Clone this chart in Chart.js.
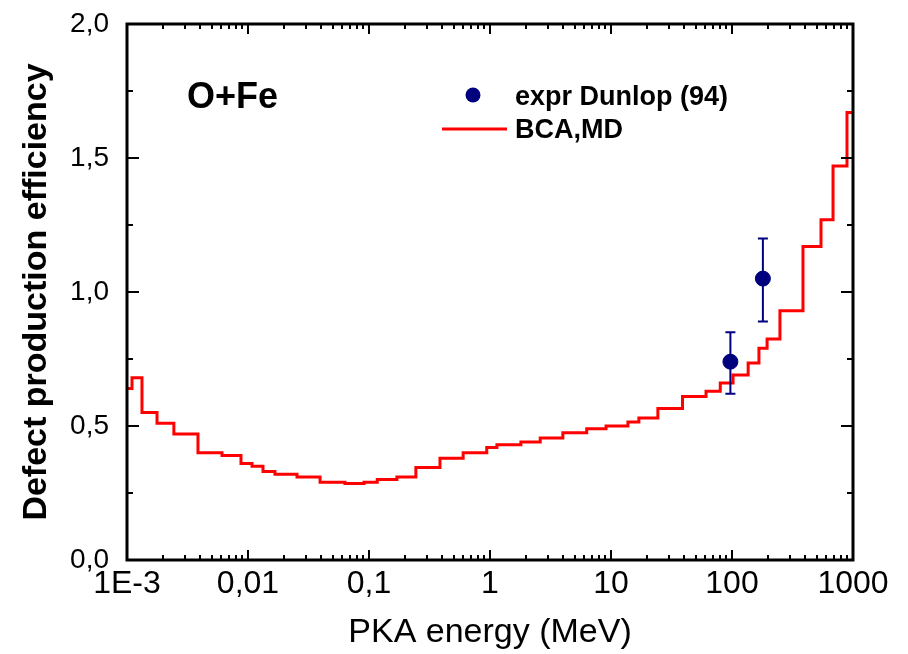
<!DOCTYPE html>
<html>
<head>
<meta charset="utf-8">
<script src="https://cdn.jsdelivr.net/npm/chart.js@4/dist/chart.umd.min.js"></script>
<style>
  body { margin: 0; background: #fff; }
  canvas { display: block; }
</style>
</head>
<body>
<canvas id="chart" width="908" height="654"></canvas>
<script>
// BCA,MD curve: energy where each step starts (MeV) and the level of that step
var stepEnergy = [0.001, 0.0011, 0.00133, 0.00177, 0.00244, 0.00386, 0.0061, 0.00875, 0.0108, 0.0133,
  0.0167, 0.0254, 0.0394, 0.0633, 0.091, 0.117, 0.17, 0.244, 0.386, 0.6,
  0.94, 1.14, 1.8, 2.6, 4.0, 6.3, 9.1, 13.8, 17, 24.4,
  39, 61, 80, 102, 136, 167, 195, 249, 386, 544,
  684, 892, 1000];
var stepEff = [0.64, 0.68, 0.55, 0.51, 0.47, 0.40, 0.39, 0.36, 0.35, 0.33,
  0.32, 0.31, 0.29, 0.285, 0.29, 0.30, 0.31, 0.345, 0.38, 0.40,
  0.42, 0.43, 0.44, 0.455, 0.475, 0.49, 0.50, 0.515, 0.53, 0.565,
  0.61, 0.63, 0.66, 0.69, 0.735, 0.79, 0.825, 0.93, 1.17, 1.27,
  1.47, 1.67, 1.67];

// expr Dunlop (94)
var exprEnergy = [97, 180];
var exprEff = [0.74, 1.05];
var exprLow = [0.62, 0.89];
var exprHigh = [0.85, 1.20];

var xTicks = [0.001, 0.01, 0.1, 1, 10, 100, 1000];
var xTickLabels = ['1E-3', '0,01', '0,1', '1', '10', '100', '1000'];
var yTicks = [0, 0.5, 1, 1.5, 2];
var yTickLabels = ['0,0', '0,5', '1,0', '1,5', '2,0'];

var NAVY = '#00007f';
var sans = '"Liberation Sans", Arial, sans-serif';

// frame with inward ticks, error bars, label and legend
var decor = {
  id: 'decor',
  afterDatasetsDraw: function(chart) {
    var ctx = chart.ctx, x = chart.scales.x, y = chart.scales.y;
    ctx.save();
    ctx.strokeStyle = NAVY;
    ctx.lineWidth = 2;
    for (var i = 0; i < exprEnergy.length; i++) {
      var px = x.getPixelForValue(exprEnergy[i]);
      var lo = y.getPixelForValue(exprLow[i]);
      var hi = y.getPixelForValue(exprHigh[i]);
      ctx.beginPath();
      ctx.moveTo(px, lo); ctx.lineTo(px, hi);
      ctx.moveTo(px - 5, lo); ctx.lineTo(px + 5, lo);
      ctx.moveTo(px - 5, hi); ctx.lineTo(px + 5, hi);
      ctx.stroke();
    }
    ctx.restore();
  },
  afterDraw: function(chart) {
    var ctx = chart.ctx, a = chart.chartArea, x = chart.scales.x, y = chart.scales.y;
    ctx.save();
    ctx.strokeStyle = '#000';
    ctx.lineWidth = 2;
    ctx.beginPath();
    xTicks.forEach(function(v, i) {
      var px = Math.round(x.getPixelForValue(v));
      ctx.moveTo(px, a.bottom); ctx.lineTo(px, a.bottom - 10);
      ctx.moveTo(px, a.top); ctx.lineTo(px, a.top + 10);
      if (i < xTicks.length - 1) {
        for (var m = 2; m <= 9; m++) {
          var mx = Math.round(x.getPixelForValue(v * m));
          ctx.moveTo(mx, a.bottom); ctx.lineTo(mx, a.bottom - 5);
          ctx.moveTo(mx, a.top); ctx.lineTo(mx, a.top + 5);
        }
      }
    });
    for (var t = 0; t <= 2.001; t += 0.25) {
      var py = Math.round(y.getPixelForValue(t));
      var len = (Math.abs(t * 2 - Math.round(t * 2)) < 1e-6) ? 12 : 6;
      ctx.moveTo(a.left, py); ctx.lineTo(a.left + len, py);
      ctx.moveTo(a.right, py); ctx.lineTo(a.right - len, py);
    }
    ctx.stroke();
    ctx.lineWidth = 3;
    ctx.strokeRect(a.left, a.top, a.right - a.left, a.bottom - a.top);

    ctx.fillStyle = '#000';
    ctx.textBaseline = 'middle';
    ctx.textAlign = 'left';
    ctx.font = 'bold 36px ' + sans;
    ctx.fillText('O+Fe', 187, 98);

    ctx.font = 'bold 27px ' + sans;
    ctx.fillText('expr Dunlop (94)', 515, 98);
    ctx.fillText('BCA,MD', 515, 131);
    ctx.fillStyle = NAVY;
    ctx.beginPath();
    ctx.arc(473, 95, 7.5, 0, Math.PI * 2);
    ctx.fill();
    ctx.strokeStyle = '#ff0000';
    ctx.lineWidth = 3;
    ctx.beginPath();
    ctx.moveTo(442, 129); ctx.lineTo(507, 129);
    ctx.stroke();
    ctx.restore();
  }
};

// keep the plot box where the reference has it: no extra room for label overhang
function noOverhang(s) {
  s.paddingTop = 0; s.paddingBottom = 0; s.paddingLeft = 0; s.paddingRight = 0;
}

var bcaData = stepEnergy.map(function(e, i) { return { x: e, y: stepEff[i] }; });
var exprData = exprEnergy.map(function(e, i) { return { x: e, y: exprEff[i] }; });

new Chart(document.getElementById('chart').getContext('2d'), {
  type: 'line',
  data: {
    datasets: [{
      label: 'expr Dunlop (94)',
      data: exprData,
      showLine: false,
      pointRadius: 7.5,
      pointHoverRadius: 7.5,
      pointBackgroundColor: NAVY,
      pointBorderColor: NAVY,
      borderColor: NAVY
    }, {
      label: 'BCA,MD',
      data: bcaData,
      stepped: true,
      borderColor: '#ff0000',
      borderWidth: 3,
      pointRadius: 0,
      fill: false
    }]
  },
  plugins: [decor],
  options: {
    responsive: false,
    animation: false,
    events: [],
    layout: { padding: { top: 24, right: 55, left: 0, bottom: 0 } },
    plugins: { legend: { display: false }, tooltip: { enabled: false } },
    scales: {
      x: {
        type: 'logarithmic',
        min: 0.001,
        max: 1000,
        afterBuildTicks: function(s) { s.ticks = xTicks.map(function(v) { return { value: v }; }); },
        afterFit: function(s) { s.height = 94; noOverhang(s); },
        grid: { display: false, drawTicks: false },
        border: { display: false },
        ticks: {
          autoSkip: false,
          maxRotation: 0,
          padding: 5,
          color: '#000',
          font: { family: sans, size: 32 },
          callback: function(v, i) { return xTickLabels[i]; }
        },
        title: {
          display: true,
          text: 'PKA energy (MeV)',
          color: '#000',
          font: { family: sans, size: 34 },
          padding: { top: 0, bottom: 1 }
        }
      },
      y: {
        min: 0,
        max: 2,
        afterBuildTicks: function(s) { s.ticks = yTicks.map(function(v) { return { value: v }; }); },
        afterFit: function(s) { s.width = 127; noOverhang(s); },
        grid: { display: false, drawTicks: false },
        border: { display: false },
        ticks: {
          padding: 18,
          color: '#000',
          font: { family: sans, size: 28 },
          callback: function(v, i) { return yTickLabels[i]; }
        },
        title: {
          display: true,
          text: 'Defect production efficiency',
          color: '#000',
          font: { family: sans, size: 34, weight: 'bold' },
          padding: { top: 16, bottom: 0 }
        }
      }
    }
  }
});
</script>
</body>
</html>
